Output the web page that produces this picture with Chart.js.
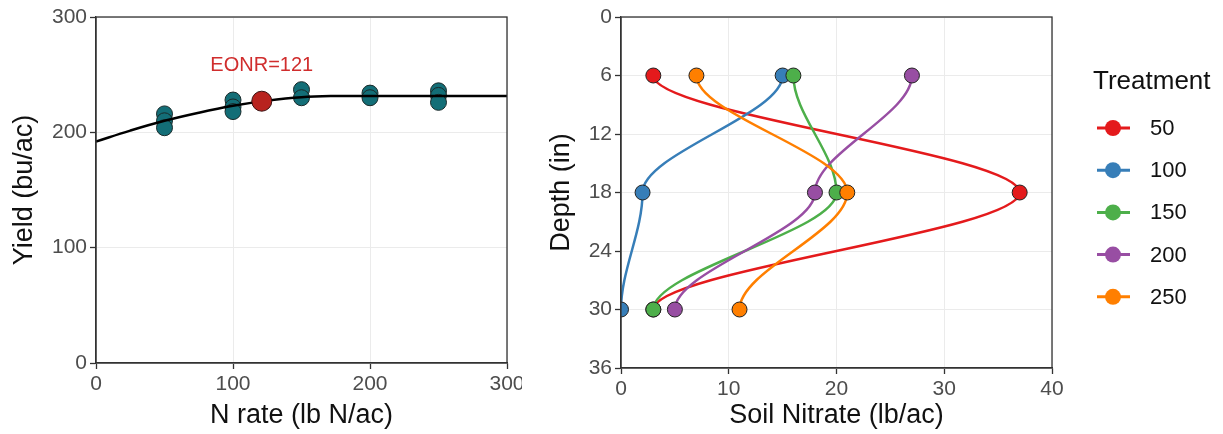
<!DOCTYPE html>
<html>
<head>
<meta charset="utf-8">
<script src="https://cdn.jsdelivr.net/npm/chart.js@4/dist/chart.umd.min.js"></script>
<style>
  body { margin: 0; background: #fff; }
  #wrap { position: relative; width: 1223px; height: 434px; overflow: hidden; }
  #clip1 { position: absolute; left: 0; top: 0; width: 522px; height: 434px; overflow: hidden; }
  #c2 { position: absolute; left: 530px; top: 0; }
</style>
</head>
<body>
<div id="wrap">
  <div id="clip1"><canvas id="c1" width="560" height="434"></canvas></div>
  <canvas id="c2" width="693" height="434"></canvas>
</div>
<script>
// ---- left panel data: yield response ----
var nRate = [50, 50, 50, 100, 100, 100, 150, 150, 200, 200, 250, 250, 250];
var yieldObs = [216, 210, 204, 228, 222, 218, 237, 230, 234, 230, 236, 232, 226];
var fitRate = [0, 25, 50, 75, 100, 125, 150, 175, 200, 250, 300];
var fitYield = [192, 201.5, 210, 217, 223, 227.5, 230.5, 231.5, 231.5, 231.5, 231.5];
var eonrRate = 121;
var eonrYield = 227;
var eonrLabel = "EONR=121";
var eonrLabelY = 258;
var leftXTicks = [0, 100, 200, 300];
var leftYTicks = [0, 100, 200, 300];

// ---- right panel data: nitrate profile ----
var depths = [6, 18, 30];
var treatments = ["50", "100", "150", "200", "250"];
var nitrate50 = [3, 37, 3];
var nitrate100 = [15, 2, 0];
var nitrate150 = [16, 20, 3];
var nitrate200 = [27, 18, 5];
var nitrate250 = [7, 21, 11];
var rightXTicks = [0, 10, 20, 30, 40];
var rightYTicks = [0, 6, 12, 18, 24, 30, 36];

var colors = ["#E41A1C", "#377EB8", "#4DAF4A", "#984EA3", "#FF7F00"];
var ink = "#333333";
var tickInk = "#4d4d4d";

Chart.defaults.font.family = "'Liberation Sans', Arial, sans-serif";
Chart.defaults.color = tickInk;

function pts(xs, ys) {
  return xs.map(function (v, i) { return { x: v, y: ys[i] }; });
}

// panel border on all four sides
var boxPlugin = {
  id: "box",
  afterDraw: function (chart) {
    var a = chart.chartArea, c = chart.ctx;
    c.save();
    c.strokeStyle = ink;
    c.lineWidth = 1.3;
    c.strokeRect(a.left, a.top, a.right - a.left, a.bottom - a.top);
    c.restore();
  }
};

function axis(min, max, ticks, title, size, reverse, titlePad) {
  return {
    type: "linear",
    min: min, max: max,
    reverse: !!reverse,
    afterBuildTicks: function (s) { s.ticks = ticks.map(function (v) { return { value: v }; }); },
    afterFit: function (s) {
      if (s.isHorizontal()) s.height = size; else s.width = size;
    },
    grid: { color: "#ebebeb", lineWidth: 1, tickColor: ink, tickLength: 6, tickWidth: 1.3 },
    border: { color: ink, width: 1.3 },
    ticks: { font: { size: 21 }, color: tickInk, padding: 3, autoSkip: false, maxRotation: 0 },
    title: { display: true, text: title, color: "#111", font: { size: 27 }, padding: titlePad }
  };
}

// ---- left chart ----
var eonrPlugin = {
  id: "eonr",
  afterDatasetsDraw: function (chart) {
    var c = chart.ctx;
    var x = chart.scales.x.getPixelForValue(eonrRate);
    var y = chart.scales.y.getPixelForValue(eonrLabelY);
    c.save();
    c.fillStyle = "#d02d2d";
    c.font = "20px 'Liberation Sans', Arial, sans-serif";
    c.textAlign = "center";
    c.textBaseline = "middle";
    c.fillText(eonrLabel, x, y);
    c.restore();
  }
};

new Chart(document.getElementById("c1"), {
  type: "scatter",
  data: {
    datasets: [
      {
        label: "EONR",
        data: [{ x: eonrRate, y: eonrYield }],
        backgroundColor: "#b8231f",
        borderColor: "#3a1010",
        borderWidth: 1,
        pointRadius: 10
      },
      {
        label: "fit",
        data: pts(fitRate, fitYield),
        showLine: true,
        borderColor: "#000",
        borderWidth: 2.5,
        pointRadius: 0,
        tension: 0.4,
        fill: false
      },
      {
        label: "observed",
        data: pts(nRate, yieldObs),
        backgroundColor: "#136e77",
        borderColor: "#1a2a2a",
        borderWidth: 1,
        pointRadius: 8
      }
    ]
  },
  options: {
    responsive: false,
    animation: false,
    layout: { padding: { top: 17, right: 53, left: 0, bottom: 0 } },
    plugins: { legend: { display: false }, tooltip: { enabled: false } },
    scales: {
      x: axis(0, 300, leftXTicks, "N rate (lb N/ac)", 71, false, { top: 0, bottom: 2 }),
      y: axis(0, 300, leftYTicks, "Yield (bu/ac)", 96, false, { top: 8, bottom: 0 })
    }
  },
  plugins: [boxPlugin, eonrPlugin]
});

// ---- right chart ----
var nitrateSets = [nitrate50, nitrate100, nitrate150, nitrate200, nitrate250];

// profile curves leave each sample point straight down the depth axis
var depthSmooth = {
  id: "depthSmooth",
  beforeDatasetDraw: function (chart, args) {
    var line = args.meta.dataset;
    if (!line) return;
    line.updateControlPoints(chart.chartArea, "x");
    var p = args.meta.data;
    for (var i = 0; i < p.length; i++) {
      if (i > 0) { p[i].cp1x = p[i].x; p[i].cp1y = p[i].y - (p[i].y - p[i - 1].y) / 3; }
      if (i < p.length - 1) { p[i].cp2x = p[i].x; p[i].cp2y = p[i].y + (p[i + 1].y - p[i].y) / 3; }
    }
    line._path = undefined;
  }
};

var legendPlugin = {
  id: "treatLegend",
  afterDraw: function (chart) {
    var c = chart.ctx;
    var left = chart.chartArea.right + 41;
    c.save();
    c.fillStyle = "#111";
    c.font = "26px 'Liberation Sans', Arial, sans-serif";
    c.textBaseline = "middle";
    c.fillText("Treatment", left, 82);
    c.font = "22px 'Liberation Sans', Arial, sans-serif";
    chart.data.datasets.forEach(function (ds, i) {
      var y = 128 + i * 42.2;
      c.strokeStyle = ds.borderColor;
      c.lineWidth = 3;
      c.beginPath();
      c.moveTo(left + 4, y);
      c.lineTo(left + 37, y);
      c.stroke();
      c.fillStyle = ds.borderColor;
      c.beginPath();
      c.arc(left + 20, y, 8, 0, Math.PI * 2);
      c.fill();
      c.fillStyle = "#111";
      c.fillText(ds.label, left + 57, y + 1);
    });
    c.restore();
  }
};

new Chart(document.getElementById("c2"), {
  type: "scatter",
  data: {
    datasets: treatments.map(function (t, i) {
      return {
        label: t,
        data: pts(nitrateSets[i], depths),
        showLine: true,
        tension: 0.4,
        borderColor: colors[i],
        backgroundColor: colors[i],
        borderWidth: 2.5,
        pointRadius: 7.5,
        pointBorderColor: "#222",
        pointBorderWidth: 1,
        order: treatments.length - i
      };
    })
  },
  options: {
    responsive: false,
    animation: false,
    layout: { padding: { top: 17, right: 171, left: 0, bottom: 0 } },
    plugins: { legend: { display: false }, tooltip: { enabled: false } },
    scales: {
      x: axis(0, 40, rightXTicks, "Soil Nitrate (lb/ac)", 66, false, { top: 0, bottom: 2 }),
      y: axis(0, 36, rightYTicks, "Depth (in)", 91, true, { top: 15, bottom: 0 })
    }
  },
  plugins: [boxPlugin, depthSmooth, legendPlugin]
});
</script>
</body>
</html>
